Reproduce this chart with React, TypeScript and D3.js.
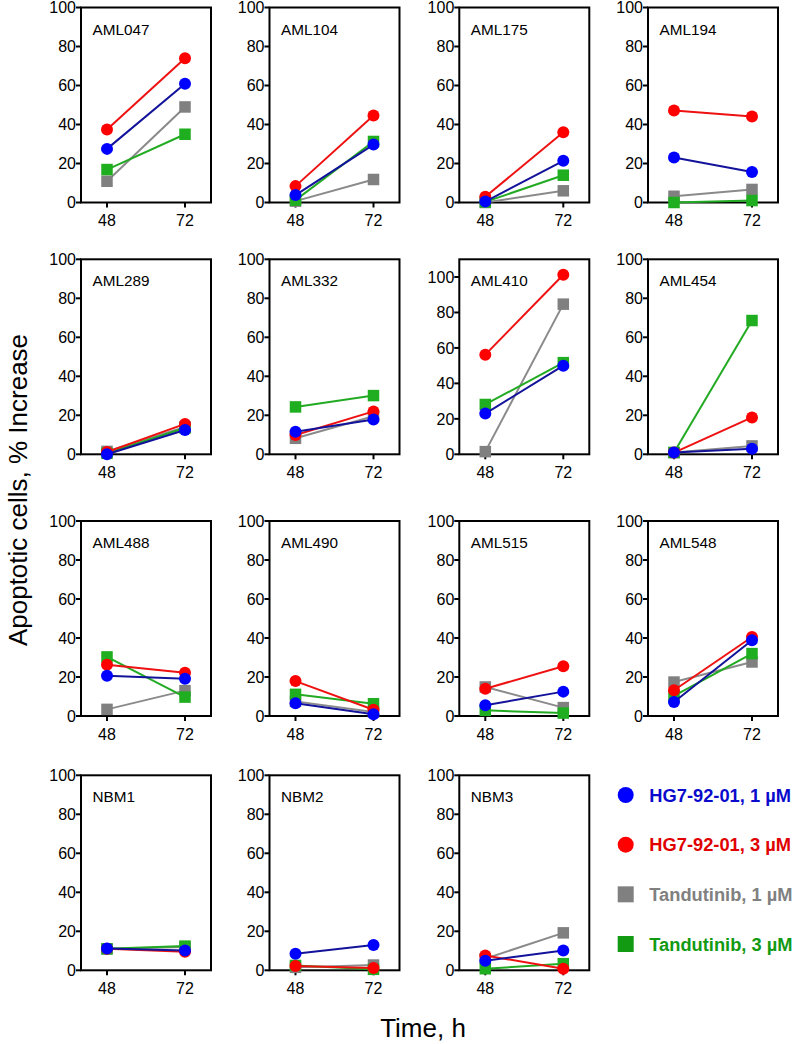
import React from "react";
import * as d3 from "d3";

const panelNames = [
  "AML047", "AML104", "AML175", "AML194",
  "AML289", "AML332", "AML410", "AML454",
  "AML488", "AML490", "AML515", "AML548",
  "NBM1", "NBM2", "NBM3",
];
const times = [48, 72];
const yTicks = [0, 20, 40, 60, 80, 100];
const panelYMax = [100, 100, 100, 100, 100, 100, 110, 100, 100, 100, 100, 100, 100, 100, 100];

// values at [48 h, 72 h] per panel
const hg1uM = [
  [27.5, 60.9], [3.8, 29.7], [0.5, 21.4], [23.1, 15.6],
  [0, 12.5], [11.6, 17.8], [23, 50], [0.9, 2.9],
  [20.7, 19.1], [6.5, 0.9], [5.5, 12.5], [7.2, 38.8],
  [11.2, 10.2], [8.5, 13], [4.9, 10.2],
];
const hg3uM = [
  [37.4, 74], [8.4, 44.6], [2.9, 36], [47.2, 44.1],
  [1.2, 15.6], [9.9, 22], [56.2, 101.3], [0.9, 18.9],
  [26.3, 22.2], [17.9, 3.2], [14, 25.5], [13.2, 40.5],
  [11, 9.5], [2.2, 1.2], [7.6, 0.8],
];
const tan1uM = [
  [10.9, 49], [0.7, 11.8], [0, 6], [3.2, 6.7],
  [1.5, 14], [8.2, 19.5], [1.5, 84.7], [0.9, 4.3],
  [3.4, 13], [7.5, 2], [14.9, 4.3], [17.4, 27.7],
  [11, 12], [1.5, 2.7], [6, 19.2],
];
const tan3uM = [
  [16.9, 35], [1.2, 31.3], [0.3, 14], [0, 1],
  [0.5, 13.5], [24.3, 30.1], [28.1, 51.7], [0.9, 68.6],
  [30.3, 9.7], [11.1, 6.3], [2.9, 1.5], [10.3, 32],
  [11, 12.4], [2.5, 0.5], [0.8, 3.4],
];
const seriesLabels = ["HG7-92-01, 1 µM", "HG7-92-01, 3 µM", "Tandutinib, 1 µM", "Tandutinib, 3 µM"];

const series = [
  { key: "tan1", data: tan1uM, shape: "square", fill: "#808080", line: "#8a8a8a" },
  { key: "tan3", data: tan3uM, shape: "square", fill: "#1fae1f", line: "#22aa22" },
  { key: "hg3", data: hg3uM, shape: "circle", fill: "#ff0000", line: "#ee1111" },
  { key: "hg1", data: hg1uM, shape: "circle", fill: "#0000ff", line: "#12129a" },
];
const legendOrder = [
  { shape: "circle", fill: "#0000ff", text: "#0a0acc" },
  { shape: "circle", fill: "#ff0000", text: "#e00000" },
  { shape: "square", fill: "#808080", text: "#808080" },
  { shape: "square", fill: "#129a12", text: "#129a12" },
];

const colX = [81, 269.5, 459.3, 648];
const rowTop = [7.5, 259.3, 521, 775.3];
const PW = 130;
const PH = 195;
const FONT = "'Liberation Sans', Arial, Helvetica, sans-serif";

function Marker({ shape, x, y, fill, size }: any) {
  if (shape === "circle") return <circle cx={x} cy={y} r={size / 2} fill={fill} />;
  return <rect x={x - size / 2} y={y - size / 2} width={size} height={size} fill={fill} />;
}

function Panel({ i }: { i: number }) {
  const col = i % 4;
  const row = Math.floor(i / 4);
  const x0 = colX[col];
  const y0 = rowTop[row];
  const xs = d3.scaleLinear().domain([40, 80]).range([x0, x0 + PW]);
  const ys = d3.scaleLinear().domain([0, panelYMax[i]]).range([y0 + PH, y0]);
  const line = d3.line<number>().x((_, k) => xs(times[k])).y((d) => ys(d));
  return (
    <g>
      <rect x={x0} y={y0} width={PW} height={PH} fill="none" stroke="#000" strokeWidth={2} />
      {yTicks.map((t) => (
        <g key={t}>
          <line x1={x0 - 5} x2={x0} y1={ys(t)} y2={ys(t)} stroke="#000" strokeWidth={2} />
          <text x={x0 - 5} y={ys(t) + 5.8} textAnchor="end" fontSize={16} fontFamily={FONT} fill="#000">
            {t}
          </text>
        </g>
      ))}
      {times.map((t) => (
        <g key={t}>
          <line x1={xs(t)} x2={xs(t)} y1={y0 + PH} y2={y0 + PH + 5} stroke="#000" strokeWidth={2} />
          <text x={xs(t)} y={y0 + PH + 23.5} textAnchor="middle" fontSize={16} fontFamily={FONT} fill="#000">
            {t}
          </text>
        </g>
      ))}
      <text x={x0 + 11.5} y={y0 + 27} fontSize={15.3} fontFamily={FONT} fill="#000">
        {panelNames[i]}
      </text>
      {series.map((s) => (
        <g key={s.key}>
          <path d={line(s.data[i]) || ""} fill="none" stroke={s.line} strokeWidth={2} />
          {s.data[i].map((v, k) => (
            <Marker key={k} shape={s.shape} x={xs(times[k])} y={ys(v)} fill={s.fill} size={s.shape === "circle" ? 12 : 11.5} />
          ))}
        </g>
      ))}
    </g>
  );
}

export default function App() {
  const legendY = d3.scaleLinear().domain([0, 3]).range([795, 944]);
  return (
    <svg width={797} height={1044} style={{ position: "absolute", left: 0, top: 0, background: "#fff" }}>
      <rect width={797} height={1044} fill="#fff" />
      {panelNames.map((_, i) => (
        <Panel key={i} i={i} />
      ))}
      {seriesLabels.map((lab, k) => (
        <g key={lab}>
          <Marker shape={legendOrder[k].shape} x={625.7} y={legendY(k)} fill={legendOrder[k].fill} size={16} />
          <text x={649.3} y={legendY(k) + 6.5} fontSize={18.3} fontWeight="bold" fontFamily={FONT} fill={legendOrder[k].text}>
            {lab}
          </text>
        </g>
      ))}
      <text
        transform="translate(27,490) rotate(-90)"
        textAnchor="middle"
        fontSize={26}
        fontFamily={FONT}
        fill="#000"
      >
        Apoptotic cells, % Increase
      </text>
      <text x={423} y={1037} textAnchor="middle" fontSize={26} fontFamily={FONT} fill="#000">
        Time, h
      </text>
    </svg>
  );
}
